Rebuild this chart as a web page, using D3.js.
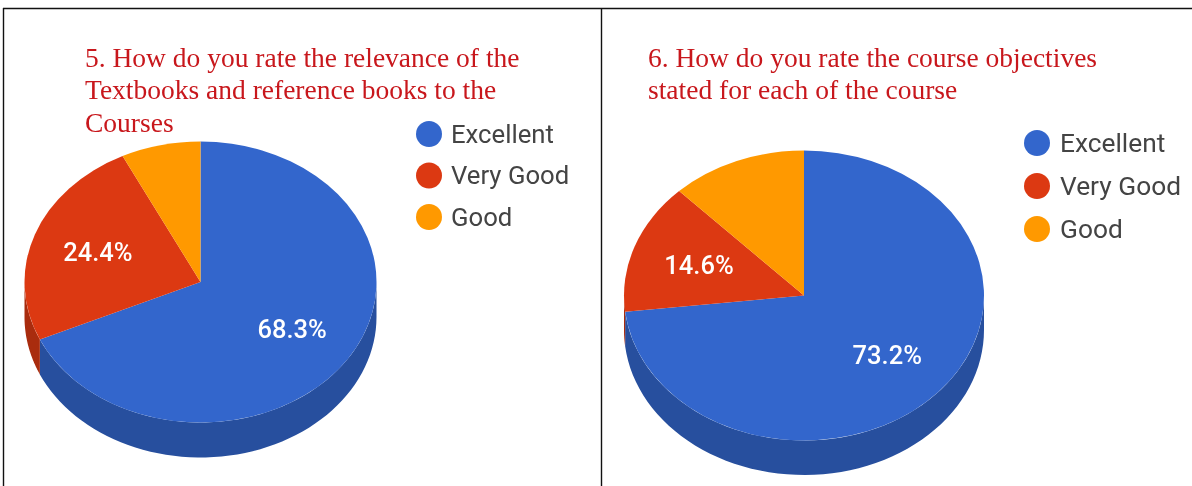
<!DOCTYPE html>
<html>
<head>
<meta charset="utf-8">
<script src="https://cdn.jsdelivr.net/npm/d3@7"></script>
<style>
html,body{margin:0;padding:0;background:#fff;overflow:hidden}
svg{display:block;filter:blur(0.45px)}
</style>
</head>
<body>
<svg id="c" width="1192" height="486"></svg>
<script>
const categories = ["Excellent", "Very Good", "Good"];
const valuesLeft = [68.3, 24.4, 7.3];
const valuesRight = [73.2, 14.6, 12.2];
const titleLeft = ["5. How do you rate the relevance of the", "Textbooks and reference books to the", "Courses"];
const titleRight = ["6. How do you rate the course objectives", "stated for each of the course"];
const topColors = ["#3366cc", "#dc3912", "#ff9900"];
const sideColors = ["#274f9e", "#a92c0e", "#c47600"];

const svg = d3.select("#c");
const color = d3.scaleOrdinal(categories, topColors);
const sideColor = d3.scaleOrdinal(categories, sideColors);

// frame
const frame = svg.append("g").attr("stroke", "#111").attr("stroke-width", 1.4);
frame.append("line").attr("x1", 3).attr("x2", 1192).attr("y1", 8.5).attr("y2", 8.5);
frame.append("line").attr("x1", 3.5).attr("x2", 3.5).attr("y1", 8).attr("y2", 486);
frame.append("line").attr("x1", 601.5).attr("x2", 601.5).attr("y1", 8).attr("y2", 486);

function panel(cfg) {
  const g = svg.append("g");
  const rows = categories.map((c, i) => ({ name: c, value: cfg.values[i] }));
  const arcs = d3.pie().sort(null).value(d => d.value)(rows);
  const yScale = cfg.ry / cfg.rx;

  // side wall: only the front half of the rim is visible
  const sx = a => cfg.cx + cfg.rx * Math.sin(a);
  const sy = a => cfg.cy - cfg.ry * Math.cos(a);
  arcs.forEach(d => {
    const a0 = Math.max(d.startAngle, Math.PI / 2);
    const a1 = Math.min(d.endAngle, 3 * Math.PI / 2);
    if (a1 <= a0) return;
    const t = d3.range(0, 61).map(i => a0 + (a1 - a0) * i / 60);
    const pts = t.map(a => [sx(a), sy(a)]).concat(t.slice().reverse().map(a => [sx(a), sy(a) + cfg.depth]));
    g.append("path").attr("d", d3.line()(pts) + "Z").attr("fill", sideColor(d.data.name));
  });

  // top face
  const arc = d3.arc().innerRadius(0).outerRadius(cfg.rx);
  const top = g.append("g").attr("transform", `translate(${cfg.cx},${cfg.cy}) scale(1,${yScale})`);
  top.selectAll("path").data(arcs).join("path")
    .attr("d", arc).attr("fill", d => color(d.data.name));

  // slice labels
  arcs.forEach(d => {
    if (d.data.value < 14) return;
    const mid = (d.startAngle + d.endAngle) / 2;
    g.append("text")
      .attr("x", cfg.cx + cfg.rx * cfg.labelR * Math.sin(mid))
      .attr("y", cfg.cy - cfg.ry * cfg.labelR * Math.cos(mid) + 9)
      .attr("text-anchor", "middle")
      .attr("font-family", "Roboto").attr("font-weight", 500).attr("font-size", 25.5).attr("fill", "#fff")
      .text(d.data.value.toFixed(1) + "%");
  });

  // title
  g.selectAll("text.title").data(cfg.title).join("text").attr("class", "title")
    .attr("x", cfg.titleX).attr("y", (d, i) => cfg.titleY + i * 32.5)
    .attr("font-family", "Liberation Serif").attr("font-size", 27.5).attr("fill", "#c8171c")
    .text(d => d);

  // legend
  const lg = g.selectAll("g.legend").data(categories).join("g").attr("class", "legend")
    .attr("transform", (d, i) => `translate(${cfg.legX},${cfg.legY + i * cfg.legStep})`);
  lg.append("circle").attr("r", 13).attr("fill", d => color(d));
  lg.append("text").attr("x", cfg.legText).attr("y", 8.5)
    .attr("font-family", "Roboto").attr("font-size", cfg.legFont).attr("fill", "#444").text(d => d);
}

panel({ values: valuesLeft, title: titleLeft, titleX: 85, titleY: 66.5, cx: 200.5, cy: 282, rx: 176, ry: 140.5, depth: 35, labelR: 0.62, legX: 429, legY: 134, legStep: 41.5, legText: 22, legFont: 25.7 });
panel({ values: valuesRight, title: titleRight, titleX: 648, titleY: 66.5, cx: 804, cy: 295.5, rx: 180, ry: 145, depth: 34.5, labelR: 0.62, legX: 1037, legY: 143, legStep: 43, legText: 23, legFont: 26.3 });
</script>
</body>
</html>
